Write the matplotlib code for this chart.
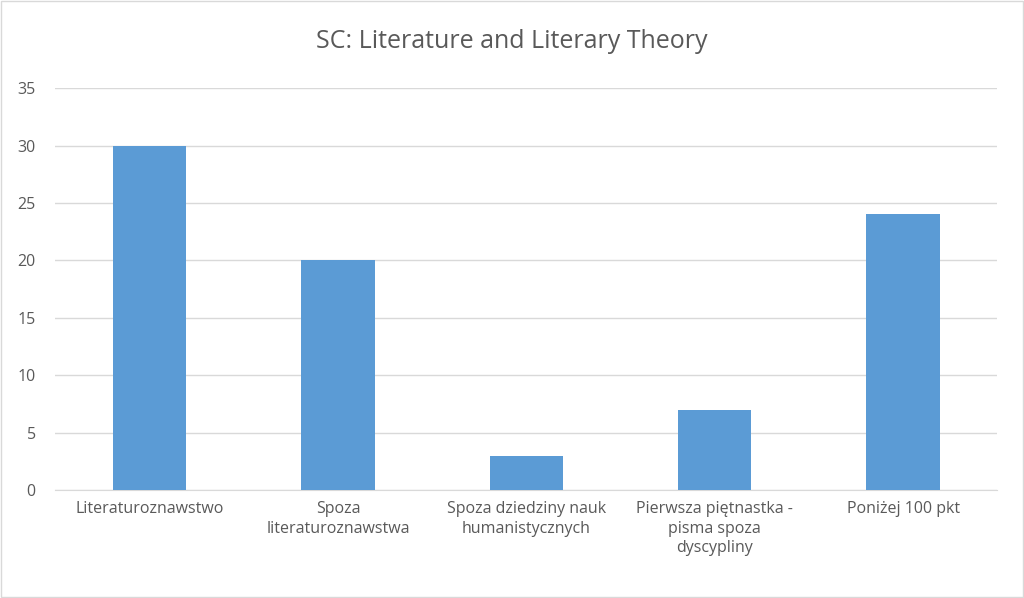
import matplotlib.pyplot as plt
import numpy as np

categories = [
    "Literaturoznawstwo",
    "Spoza\nliteraturoznawstwa",
    "Spoza dziedziny nauk\nhumanistycznych",
    "Pierwsza piętnastka -\npisma spoza\ndyscypliny",
    "Poniżej 100 pkt",
]
values = [30, 20, 3, 7, 24]

plt.rcParams["font.family"] = ["Open Sans", "DejaVu Sans"]
text_color = "#595959"

fig = plt.figure(figsize=(10.24, 5.98), dpi=100)
ax = fig.add_axes([0.054, 0.1806, 0.92, 0.672])

xs = np.arange(len(categories))
ax.bar(xs, values, width=0.39, color="#5B9BD5", zorder=3)

ax.set_xlim(-0.5, len(categories) - 0.5)
ax.set_ylim(0, 35)
ax.set_yticks(range(0, 36, 5))
ax.set_xticks(xs)
ax.set_xticklabels(categories, fontsize=11.5, color=text_color, linespacing=1.3)
ax.tick_params(axis="y", labelsize=11.5, labelcolor=text_color, length=0, pad=14)
ax.tick_params(axis="x", length=0, pad=8)
ax.grid(axis="y", color="#D9D9D9", linewidth=1, zorder=0)
for s in ["top", "right", "left"]:
    ax.spines[s].set_visible(False)
ax.spines["bottom"].set_color("#D9D9D9")

fig.text(0.5, 0.93, "SC: Literature and Literary Theory", ha="center", va="center",
         fontsize=18, color=text_color)

border = plt.Rectangle((0.001, 0.001), 0.998, 0.998, transform=fig.transFigure,
                       fill=False, edgecolor="#D9D9D9", linewidth=1)
fig.patches.append(border)

fig.savefig("out.png", dpi=100)
